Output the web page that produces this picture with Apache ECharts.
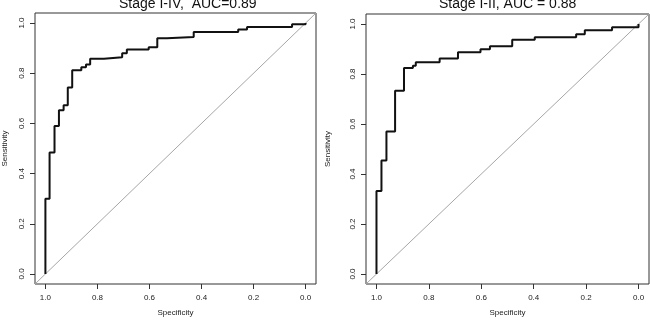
<!DOCTYPE html>
<html>
<head>
<meta charset="utf-8">
<script src="https://cdn.jsdelivr.net/npm/echarts@6/dist/echarts.min.js"></script>
<style>
html, body { margin: 0; padding: 0; background: #fff; }
#chart { width: 650px; height: 324px; }
</style>
</head>
<body>
<div id="chart"></div>
<script>
// panel titles
var titles = ['Stage I-IV,  AUC=0.89', 'Stage I-II, AUC = 0.88'];

// ROC points, stage I-IV
var specA = [1.0, 1.0, 0.984, 0.984, 0.965, 0.965, 0.948, 0.948, 0.93, 0.93, 0.914, 0.914,
  0.897, 0.897, 0.862, 0.862, 0.844, 0.844, 0.828, 0.828, 0.775, 0.775, 0.705, 0.705,
  0.687, 0.687, 0.603, 0.603, 0.57, 0.57, 0.533, 0.533, 0.43, 0.43, 0.259, 0.259,
  0.225, 0.225, 0.052, 0.052, 0.0, 0.0];
var sensA = [0.0, 0.30, 0.30, 0.484, 0.484, 0.59, 0.59, 0.652, 0.652, 0.672, 0.672, 0.743,
  0.743, 0.812, 0.812, 0.824, 0.824, 0.835, 0.835, 0.858, 0.858, 0.864, 0.864, 0.88,
  0.88, 0.895, 0.895, 0.904, 0.904, 0.939, 0.939, 0.944, 0.944, 0.964, 0.964, 0.974,
  0.974, 0.984, 0.984, 0.995, 0.995, 1.0];

// ROC points, stage I-II
var specB = [1.0, 1.0, 0.981, 0.981, 0.962, 0.962, 0.929, 0.929, 0.895, 0.895, 0.861, 0.861,
  0.85, 0.85, 0.759, 0.759, 0.689, 0.689, 0.603, 0.603, 0.567, 0.567, 0.482, 0.482,
  0.396, 0.396, 0.238, 0.238, 0.205, 0.205, 0.101, 0.101, 0.0, 0.0];
var sensB = [0.0, 0.332, 0.332, 0.454, 0.454, 0.57, 0.57, 0.733, 0.733, 0.824, 0.824, 0.833,
  0.833, 0.847, 0.847, 0.862, 0.862, 0.887, 0.887, 0.899, 0.899, 0.911, 0.911, 0.937,
  0.937, 0.947, 0.947, 0.959, 0.959, 0.975, 0.975, 0.987, 0.987, 1.0];

// chance line, drawn corner to corner of the plot box
var chanceSpec = [1.04, -0.04];
var chanceSens = [-0.04, 1.04];

var tickValues = [0, 0.2, 0.4, 0.6, 0.8, 1.0];

var font = 'Liberation Sans, Arial, Helvetica, sans-serif';

function zip(a, b) {
  var out = [];
  for (var i = 0; i < a.length; i++) out.push([a[i], b[i]]);
  return out;
}

function xAxisFor(idx) {
  return {
    type: 'value', gridIndex: idx, inverse: true, min: -0.04, max: 1.04, position: 'bottom',
    axisLine: { show: false, onZero: false },
    axisTick: { show: true, customValues: tickValues, length: 5, lineStyle: { color: '#333' } },
    axisLabel: { customValues: tickValues, formatter: function (v) { return v.toFixed(1); },
      fontSize: 8, color: '#222', margin: 10, fontFamily: font },
    splitLine: { show: false },
    name: 'Specificity', nameLocation: 'middle', nameGap: 25,
    nameTextStyle: { fontSize: 8, color: '#222', fontFamily: font }
  };
}

function yAxisFor(idx, gap) {
  return {
    type: 'value', gridIndex: idx, min: -0.04, max: 1.04, position: 'left',
    axisLine: { show: false, onZero: false },
    axisTick: { show: true, customValues: tickValues, length: 5, lineStyle: { color: '#333' } },
    axisLabel: { customValues: tickValues, formatter: function (v) { return v.toFixed(1); },
      rotate: 90, fontSize: 8, color: '#222', margin: 9, fontFamily: font },
    splitLine: { show: false },
    name: 'Sensitivity', nameLocation: 'middle', nameGap: gap, nameRotate: 90,
    nameTextStyle: { fontSize: 8, color: '#222', fontFamily: font }
  };
}

function rocSeries(idx, spec, sens) {
  return {
    type: 'line', xAxisIndex: idx, yAxisIndex: idx, data: zip(spec, sens),
    showSymbol: false, symbol: 'none', animation: false,
    lineStyle: { color: '#111', width: 2 }, z: 3
  };
}

function chanceSeries(idx) {
  return {
    type: 'line', xAxisIndex: idx, yAxisIndex: idx, data: zip(chanceSpec, chanceSens),
    showSymbol: false, symbol: 'none', animation: false,
    lineStyle: { color: '#a6a6a6', width: 1 }, z: 2
  };
}

var chart = echarts.init(document.getElementById('chart'), null, { renderer: 'canvas' });
chart.setOption({
  animation: false,
  backgroundColor: '#fff',
  title: [
    { text: titles[0], left: 119, top: -3, padding: 0,
      textStyle: { fontSize: 14, fontWeight: 'normal', color: '#111', fontFamily: font } },
    { text: titles[1], left: 439, top: -3, padding: 0,
      textStyle: { fontSize: 14, fontWeight: 'normal', color: '#111', fontFamily: font } }
  ],
  grid: [
    { left: 33, top: 13, width: 283, height: 271, show: true, borderColor: '#333', borderWidth: 1 },
    { left: 366, top: 14, width: 283, height: 270, show: true, borderColor: '#333', borderWidth: 1 }
  ],
  xAxis: [xAxisFor(0), xAxisFor(1)],
  yAxis: [yAxisFor(0, 26), yAxisFor(1, 34)],
  series: [
    chanceSeries(0), rocSeries(0, specA, sensA),
    chanceSeries(1), rocSeries(1, specB, sensB)
  ]
});
</script>
</body>
</html>
